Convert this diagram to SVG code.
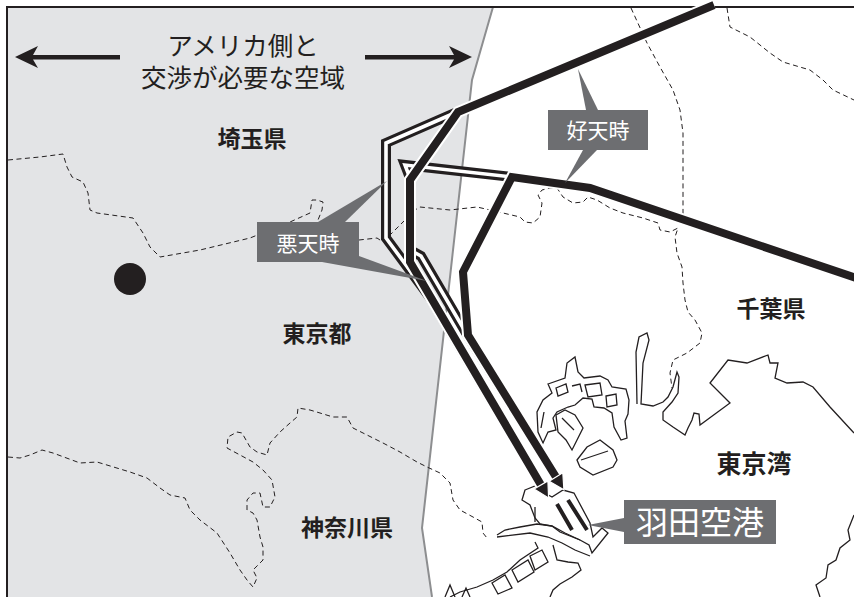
<svg xmlns="http://www.w3.org/2000/svg" width="854" height="597" viewBox="0 0 854 597">
<style>
.jp{font-family:"Noto Sans CJK JP","Noto Sans",sans-serif}
.pref{font-size:23px;font-weight:bold;fill:#231f20;text-anchor:middle}
.title{font-size:25.5px;fill:#231f20;text-anchor:middle}
.box{fill:#6d6e71}
.boxt{fill:#ffffff;text-anchor:middle}
.dash{fill:none;stroke:#231f20;stroke-width:1;stroke-dasharray:5 3.5}
.coast{fill:#ffffff;stroke:#231f20;stroke-width:1.3;stroke-linejoin:miter}
.coastl{fill:none;stroke:#231f20;stroke-width:1.3}
.dblo{fill:none;stroke:#231f20;stroke-width:10;stroke-linejoin:miter}
.dbli{fill:none;stroke:#ffffff;stroke-width:3.6;stroke-linejoin:miter}
.halo{fill:none;stroke:#ffffff;stroke-width:12;stroke-linejoin:miter}
.thick{fill:none;stroke:#231f20;stroke-width:8;stroke-linejoin:miter}
</style>
<rect x="0" y="0" width="854" height="597" fill="#ffffff"/>
<g id="airspace">
<path d="M7,7 L493,7 L472,80 L422,528 L432,597 L7,597 Z" fill="#e3e4e6"/>
<path d="M493,7 L472,80 L422,528 L432,597" fill="none" stroke="#8d8e90" stroke-width="2"/>
</g>
<g id="boundaries">
<path class="dash" d="M8,160 L40,157 L63,154 L67,167 L72,177 L83,182 L88,193 L90,210 L97,213 L133,218 L143,233 L150,247 L160,257 L200,250 L250,238 L290,222 L310,213 L312,200 L317,200 L323,202 L322,210 L318,220 L340,232 L359,240 L377,238 L383,242 L400,225 L415,210 L420,207 L450,210 L477,207 L503,213 L520,217 L525,222 L533,223 L540,217 L542,203 L538,195 L542,190 L550,188 L557,188 L563,197 L573,203 L583,202 L588,197 L597,200 L610,208 L623,213 L643,218 L658,223 L660,230 L670,232 L678,228 L675,237 L677,253 L682,267 L683,283 L685,300 L688,312 L695,320 L702,333 L700,343 L687,353 L673,360 L670,373 L672,388"/>
<path class="dash" d="M631,8 L647,43 L660,67 L673,90 L680,110 L683,133 L683,222"/>
<path class="dash" d="M727,8 L730,27 L750,37 L770,53 L783,62 L810,70 L823,80 L833,90 L854,100"/>
<path class="dash" d="M8,457 L20,458 L30,455 L42,450 L53,453 L80,463 L97,462 L130,472 L147,478 L160,488 L170,495 L185,498 L190,510 L200,520 L217,533 L230,553 L240,570 L247,580 L253,587 L257,578 L253,570 L263,560 L263,547 L260,537 L257,520 L253,513 L247,510 L247,500 L253,493 L260,493 L263,507 L270,507 L275,497 L272,480 L263,470 L253,462 L240,455 L227,448 L228,437 L237,432 L242,433 L250,447 L257,452 L267,455 L270,443 L280,432 L290,423 L297,417 L298,408 L310,410 L320,413 L333,417 L347,417 L353,428 L367,435 L383,443 L400,452 L417,462 L427,467 L440,473 L450,483 L453,500 L460,510 L473,517 L482,522 L483,533 L487,538"/>
</g>
<g id="coastline">
<path class="coastl" d="M637,404 L636,352 L639,337 L647,333 L649,340 L643,363 L641,404 L653,406 L663,402 L668,397 L673,387 L677,372 L679,377 L678,393 L672,402 L663,412 L663,420 L673,427 L685,435 L688,428 L692,420 L694,413 L699,414 L700,425 L730,403 L710,383 L728,360 L747,363 L768,355 L770,363 L778,363 L775,378 L787,383 L803,382 L813,387 L830,407 L854,433"/>
<path class="coastl" d="M854,515 L848,530 L850,540 L840,548 L836,560 L828,565 L826,578 L816,585 L820,597"/>
<path class="coast" d="M548,384 L565,378 L567,363 L575,357 L578,372 L584,378 L600,376 L608,380 L612,387 L626,389 L629,400 L628,414 L625,421 L627,438 L621,440 L614,427 L612,413 L604,408 L594,407 L592,399 L583,398 L575,405 L568,407 L557,412 L553,418 L556,430 L548,432 L543,443 L538,432 L537,412 L543,400 L552,393 Z"/>
<path class="coastl" d="M556,388 L566,384 L568,392 L558,396 Z M585,385 L600,383 L602,395 L588,397 Z M606,396 L616,394 L617,405 L607,407 Z M572,386 L580,384 L582,392 M544,412 L541,428"/>
<path class="coast" d="M556,415 L565,410 L575,415 L583,428 L577,440 L572,450 L566,440 L558,432 Z"/>
<path class="coastl" d="M562,418 L574,430"/>
<path class="coast" d="M577,460 L587,447 L600,440 L613,450 L617,460 L613,467 L593,475 L580,467 Z"/>
<path class="coastl" d="M581,460 L608,451"/>
<path class="coast" d="M525,490 L535,486 L543,492 L552,497 L563,490 L574,493 L590,523 L593,537 L602,528 L608,533 L592,553 L589,545 L580,540 L570,536 L560,532 L552,526 L540,524 L535,518 L530,505 L522,500 Z"/>
<path fill="none" stroke="#231f20" stroke-width="4" d="M557,504 L572,530 M568,500 L587,530"/>
<path class="coastl" d="M535,507 L535,522"/>
<path class="coastl" d="M497,535 L505,530 L520,527 L537,524 L552,526 L565,533 L580,540 M497,537 L530,533 L548,537 L562,543 L575,550 L590,556"/>
<path class="coastl" d="M535,542 L538,548 L520,560 L507,572 L493,580 L477,587 L460,592 L450,597 M553,545 L557,560 L568,562 L578,563 L581,570 L572,577 L560,584 L553,590 L550,597"/>
<path class="coastl" d="M492,583 L505,575 L512,588 L498,594 Z M512,570 L528,560 L534,572 L518,582 Z M530,556 L542,550 L548,562 L535,570 Z M445,597 L450,585 L455,597 M462,597 L466,588 L470,597"/>
</g>
<g id="frame">
<path d="M7,597 L7,7 L854,7" fill="none" stroke="#231f20" stroke-width="2"/>
</g>
<g id="connectors">
<path class="dblo" d="M457,112 L386,143 L386,238 L431,299 L541,485"/>
<path class="dbli" d="M457,112 L386,143 L386,238 L431,299 L541,485"/>
<path class="dblo" d="M512,177 L405,165 L410,178 L410,250 L421,256 L469,338 L556,477"/>
<path class="dbli" d="M512,177 L405,165 L410,178 L410,250 L421,256 L469,338 L556,477"/>
<path class="halo" d="M714,5 L458,112 L410,180 L410,262 L541,485"/>
<path class="thick" d="M714,5 L458,112 L410,180 L410,262 L541,485"/>
<path class="halo" d="M856,278 L590,188 L512,177 L463,272 L468,335 L556,477"/>
<path class="thick" d="M856,278 L590,188 L512,177 L463,272 L468,335 L556,477"/>
<polygon points="548.6,497.9 547.9,480.9 534.1,489.1" fill="#231f20" stroke="#ffffff" stroke-width="1.2"/>
<polygon points="563.9,489.8 562.8,472.8 549.2,481.2" fill="#231f20" stroke="#ffffff" stroke-width="1.2"/>
</g>
<g id="dot"><circle cx="130" cy="279" r="16" fill="#231f20"/></g>
<g id="title" class="jp">
<path d="M15,57 L38,46 L33,55 L120,55 L120,59.5 L33,59.5 L38,68 Z" fill="#231f20"/>
<path d="M472,57 L449,46 L454,55 L365,55 L365,59.5 L454,59.5 L449,68 Z" fill="#231f20"/>
<text class="jp title" x="243" y="55">アメリカ側と</text>
<text class="jp title" x="243" y="87">交渉が必要な空域</text>
</g>
<g id="saitama"><text class="jp pref" x="252" y="147">埼玉県</text></g>
<g id="tokyo"><text class="jp pref" x="317" y="342">東京都</text></g>
<g id="kanagawa"><text class="jp pref" x="347" y="536">神奈川県</text></g>
<g id="chiba"><text class="jp pref" x="771" y="317">千葉県</text></g>
<g id="tokyobay"><text class="jp pref" x="754" y="473" style="font-size:25px">東京湾</text></g>
<g id="badweather">
<polygon class="box" points="318,222 345,222 387,181"/>
<polygon class="box" points="322,262 359,256 427,281"/>
<rect class="box" x="257" y="222" width="102" height="40"/>
<text class="jp boxt" x="308" y="251" font-size="21">悪天時</text>
</g>
<g id="goodweather">
<polygon class="box" points="586,110 598,110 578,69"/>
<polygon class="box" points="583,150 597,150 565,183"/>
<rect class="box" x="548" y="110" width="100" height="40"/>
<text class="jp boxt" x="598" y="138" font-size="21">好天時</text>
</g>
<g id="haneda">
<polygon class="box" points="624,518 624,532 588,525"/>
<rect class="box" x="624" y="500" width="152" height="44"/>
<text class="jp boxt" x="700" y="534" font-size="32">羽田空港</text>
</g>
</svg>
